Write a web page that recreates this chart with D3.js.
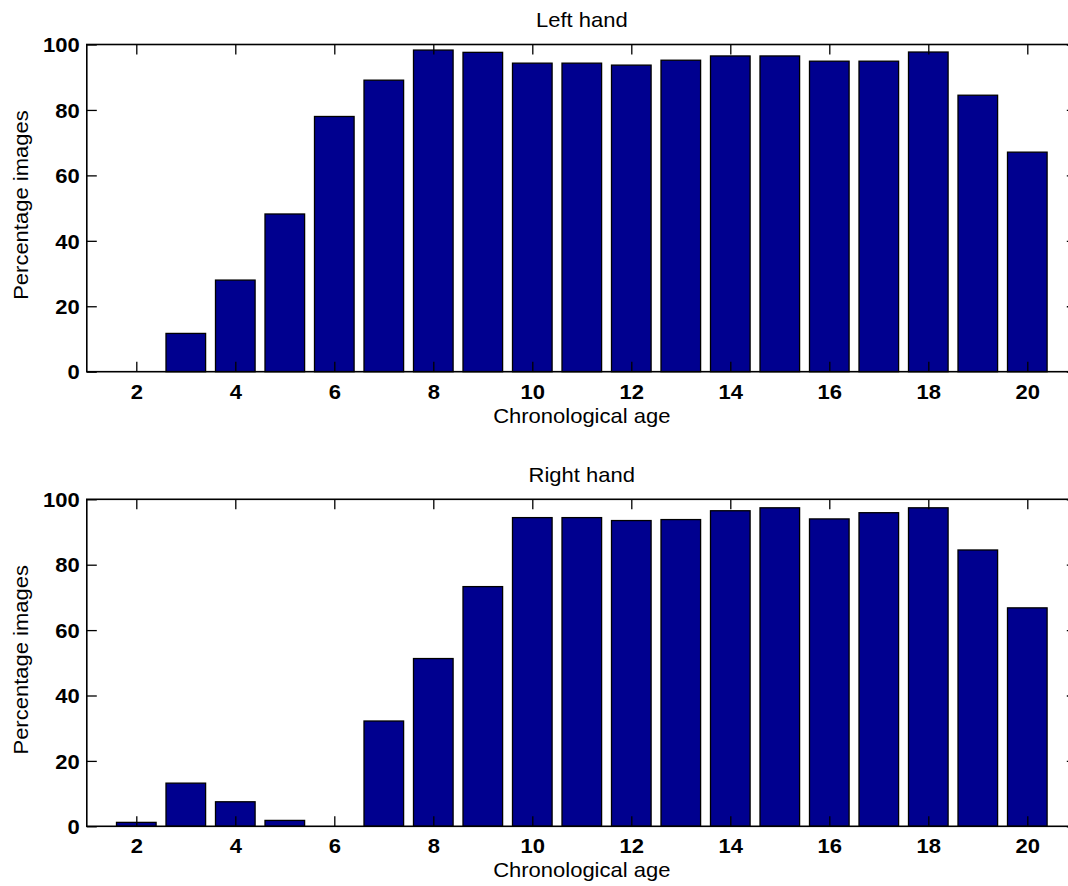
<!DOCTYPE html>
<html>
    <head>
        <meta charset="utf-8">
        <title>Percentage images by chronological age</title>
        <script type="text/javascript" src="https://cdn.jsdelivr.net/npm/d3@7"></script>
        <style>
            body { margin: 0; background: #fff; }
            svg { display: block; overflow: hidden; }
            text { font-family: "Liberation Sans", Arial, sans-serif; fill: #000; }
            .wide { transform-box: fill-box; transform-origin: center; transform: scaleX(1.1); }
            .wide-right { transform-box: fill-box; transform-origin: right center; transform: scaleX(1.1); }
        </style>
    </head>

    <body>
        <svg></svg>
    </body>

    <script type="text/javascript">
        const WIDTH = 1068;
        const HEIGHT = 886;

        // Chart data
        var ages = [2, 3, 4, 5, 6, 7, 8, 9, 10, 11, 12, 13, 14, 15, 16, 17, 18, 19, 20];
        var leftHand = [0, 11.7, 28.0, 48.2, 78.0, 89.1, 98.3, 97.6, 94.3, 94.3, 93.7, 95.2, 96.5, 96.5, 94.9, 94.9, 97.7, 84.5, 67.1];
        var rightHand = [1.2, 13.2, 7.5, 1.8, 0, 32.2, 51.3, 73.3, 94.4, 94.4, 93.5, 93.8, 96.5, 97.4, 94.0, 95.9, 97.4, 84.5, 66.8];
        var xTicks = [2, 4, 6, 8, 10, 12, 14, 16, 18, 20];
        var yTicks = [0, 20, 40, 60, 80, 100];
        var titles = ["Left hand", "Right hand"];

        var svg = d3.select("svg")
            .attr("width", WIDTH)
            .attr("height", HEIGHT);

        // x axis runs 1..21, the right edge falls just outside the picture
        var x = d3.scaleLinear()
            .domain([1, 21])
            .range([86.8, 1076.8]);

        var panels = [
            {top: 44.5, bottom: 371.7, values: leftHand, title: titles[0]},
            {top: 499.3, bottom: 826.3, values: rightHand, title: titles[1]}
        ];

        panels.forEach(function(p) {
            var y = d3.scaleLinear()
                .domain([0, 100])
                .range([p.bottom, p.top]);

            var g = svg.append("g");

            // bars, width 0.8
            g.selectAll("rect.bar")
                .data(ages)
                .enter()
                .append("rect")
                .attr("class", "bar")
                .attr("x", function(d) { return x(d - 0.4); })
                .attr("width", x(1.8) - x(1))
                .attr("y", function(d, i) { return y(p.values[i]); })
                .attr("height", function(d, i) { return y(0) - y(p.values[i]); })
                .attr("fill", "#00008f")
                .attr("stroke", "#000")
                .attr("stroke-width", 1.3);

            // ticks on all four sides
            var bottomAxis = g.append("g")
                .attr("transform", "translate(0," + p.bottom + ")")
                .call(d3.axisBottom(x).tickValues(xTicks).tickSize(-10).tickPadding(13));
            var topAxis = g.append("g")
                .attr("transform", "translate(0," + p.top + ")")
                .call(d3.axisTop(x).tickValues(xTicks).tickSize(-10).tickFormat(""));
            var leftAxis = g.append("g")
                .attr("transform", "translate(" + x(1) + ",0)")
                .call(d3.axisLeft(y).tickValues(yTicks).tickSize(-10).tickPadding(7));
            var rightAxis = g.append("g")
                .attr("transform", "translate(" + x(21) + ",0)")
                .call(d3.axisRight(y).tickValues(yTicks).tickSize(-10).tickFormat(""));

            [bottomAxis, topAxis, leftAxis, rightAxis].forEach(function(a) {
                a.select(".domain").remove();
                a.selectAll(".tick line").attr("stroke", "#000").attr("stroke-width", 1.3);
                a.selectAll("text")
                    .style("font-family", "'Liberation Sans', Arial, sans-serif")
                    .style("font-size", "20px")
                    .style("font-weight", "bold")
                    .attr("fill", "#000");
            });
            bottomAxis.selectAll("text").attr("class", "wide");
            leftAxis.selectAll("text").attr("class", "wide-right").attr("dy", "0.36em");

            // axes box
            g.append("rect")
                .attr("x", x(1))
                .attr("y", p.top)
                .attr("width", x(21) - x(1))
                .attr("height", p.bottom - p.top)
                .attr("fill", "none")
                .attr("stroke", "#000")
                .attr("stroke-width", 1.6);

            // title
            g.append("text")
                .attr("class", "wide")
                .attr("x", x(11))
                .attr("y", p.top - 17.6)
                .attr("text-anchor", "middle")
                .style("font-size", "20px")
                .text(p.title);

            // x label
            g.append("text")
                .attr("class", "wide")
                .attr("x", x(11))
                .attr("y", p.bottom + 51)
                .attr("text-anchor", "middle")
                .style("font-size", "20px")
                .text("Chronological age");

            // y label
            g.append("g")
                .attr("transform", "translate(28," + ((p.top + p.bottom) / 2 - 3) + ") rotate(-90)")
                .append("text")
                .attr("class", "wide")
                .attr("text-anchor", "middle")
                .style("font-size", "20px")
                .text("Percentage images");
        });
    </script>
</html>
